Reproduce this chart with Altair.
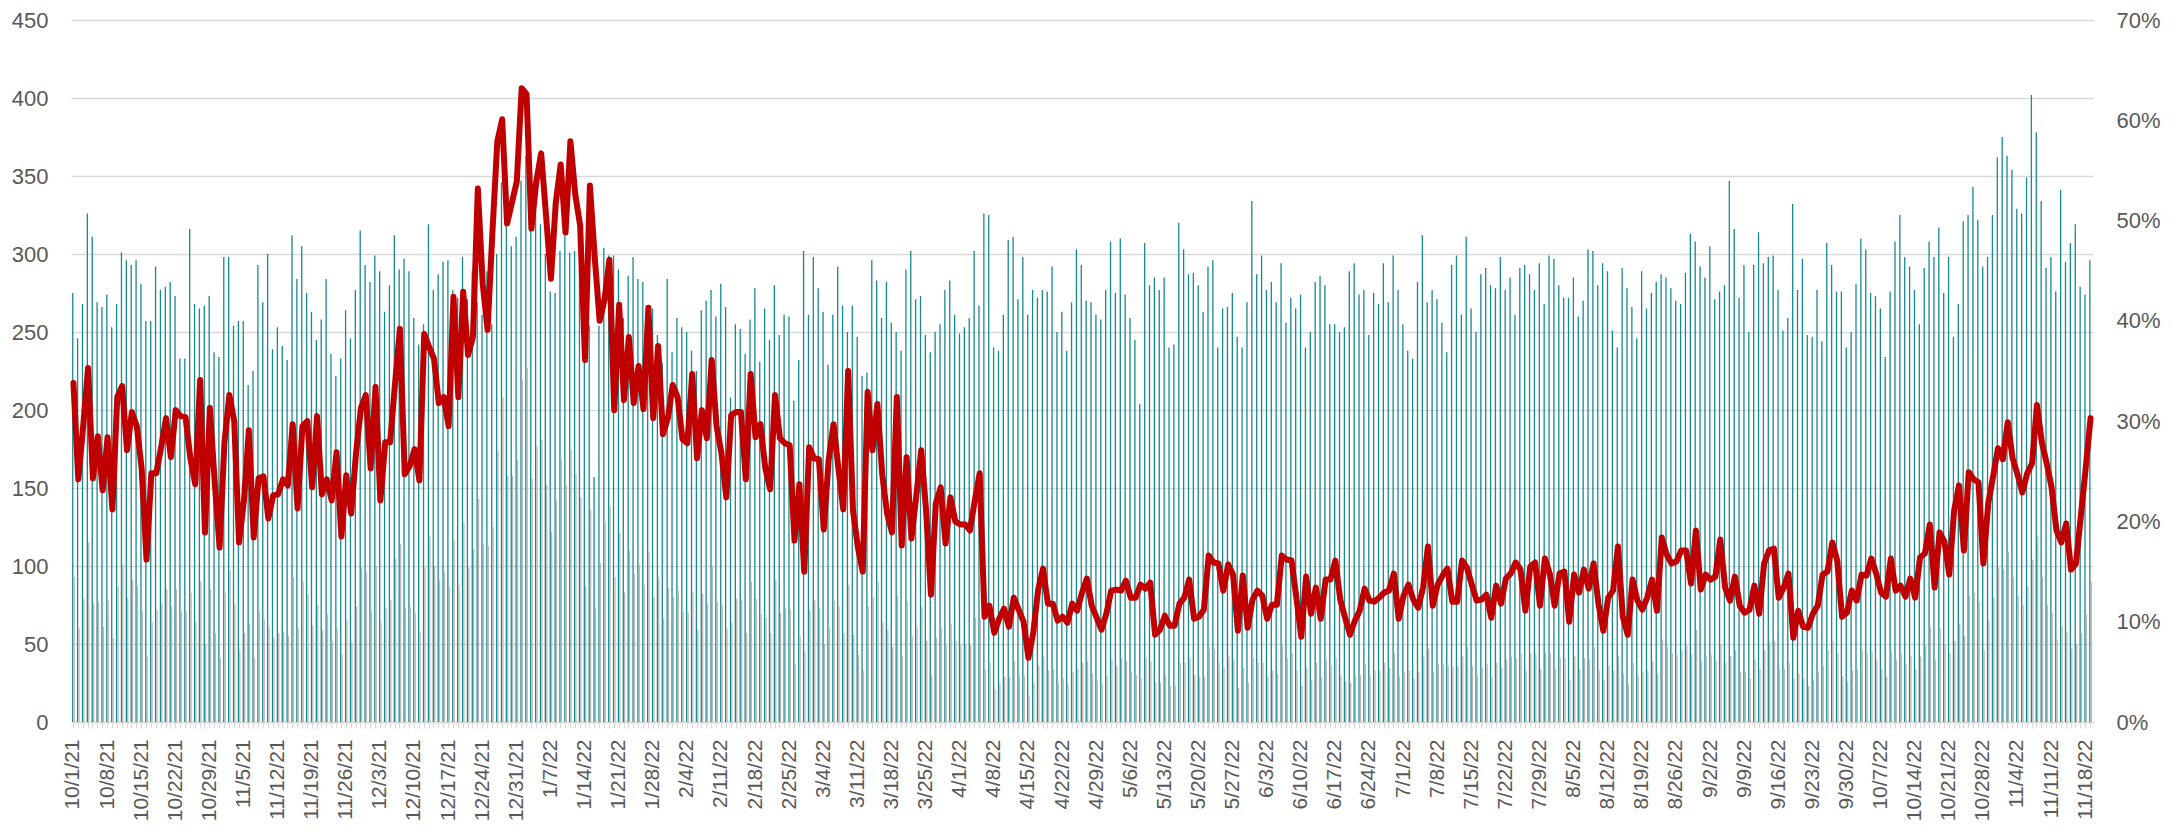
import json
import altair as alt
import pandas as pd

# Daily number of tests (left axis), 10/1/21 .. 11/19/22
tests = [
    275, 246, 268, 326, 311, 269, 266, 274, 253, 268,
    301, 296, 293, 296, 281, 257, 257, 292, 277, 279,
    282, 273, 233, 233, 316, 268, 265, 267, 273, 237,
    234, 298, 298, 254, 257, 257, 216, 225, 293, 269,
    300, 239, 253, 241, 232, 312, 284, 305, 275, 263,
    245, 258, 284, 236, 222, 233, 264, 246, 277, 315,
    293, 282, 299, 289, 263, 280, 312, 290, 297, 289,
    259, 242, 255, 319, 277, 287, 295, 296, 277, 272,
    298, 271, 289, 269, 261, 289, 255, 300, 346, 318,
    305, 311, 347, 363, 318, 328, 319, 300, 276, 275,
    302, 312, 301, 302, 290, 240, 254, 157, 254, 304,
    299, 299, 290, 259, 286, 298, 284, 282, 265, 265,
    248, 230, 284, 237, 259, 253, 250, 238, 225, 264,
    270, 277, 260, 281, 266, 208, 255, 252, 236, 258,
    278, 231, 265, 245, 280, 248, 261, 260, 206, 232,
    302, 261, 298, 278, 263, 229, 261, 292, 267, 250,
    267, 247, 222, 224, 296, 283, 259, 282, 256, 250,
    238, 290, 302, 271, 273, 248, 237, 250, 255, 277,
    283, 261, 249, 253, 259, 302, 267, 326, 325, 240,
    238, 261, 309, 311, 271, 298, 261, 277, 272, 277,
    276, 292, 250, 263, 238, 269, 303, 293, 270, 269,
    261, 258, 277, 308, 275, 310, 274, 259, 245, 204,
    307, 280, 285, 277, 285, 240, 242, 320, 303, 287,
    288, 280, 263, 292, 296, 240, 265, 266, 275, 247,
    240, 269, 334, 287, 299, 277, 282, 269, 294, 256,
    272, 265, 274, 240, 250, 282, 286, 280, 255, 255,
    250, 253, 289, 294, 274, 277, 248, 275, 268, 294,
    269, 299, 277, 255, 238, 233, 282, 312, 269, 277,
    271, 256, 237, 293, 299, 261, 311, 265, 250, 287,
    291, 280, 278, 298, 277, 285, 261, 291, 293, 287,
    277, 294, 268, 299, 297, 280, 272, 272, 285, 260,
    270, 303, 302, 280, 294, 289, 251, 240, 291, 278,
    266, 246, 289, 265, 275, 282, 287, 285, 278, 270,
    268, 288, 313, 308, 292, 285, 305, 271, 276, 280,
    347, 316, 272, 293, 250, 293, 314, 294, 298, 299,
    277, 251, 259, 332, 277, 297, 248, 247, 277, 244,
    307, 293, 276, 276, 240, 250, 281, 310, 303, 275,
    273, 265, 234, 276, 308, 325, 298, 292, 277, 255,
    291, 308, 298, 317, 275, 298, 247, 268, 321, 325,
    343, 322, 292, 298, 325, 362, 375, 363, 354, 329,
    326, 349, 402, 378, 334, 291, 298, 276, 341, 295,
    307, 319, 279, 274, 296,
]

# Daily positivity rate in percent (right axis)
rate = [
    33.8, 24.2, 29.5, 35.3, 24.3, 28.5, 23.1, 28.4, 21.2, 32.4,
    33.5, 27.1, 30.9, 29.5, 25.3, 16.2, 24.8, 24.8, 27.4, 30.3,
    26.4, 31.1, 30.5, 30.4, 26.3, 23.7, 34.1, 18.9, 31.3, 23.9,
    17.4, 27.9, 32.6, 30.0, 17.9, 22.1, 29.1, 18.4, 24.3, 24.5,
    20.3, 22.6, 22.7, 24.2, 23.6, 29.7, 21.3, 29.5, 30.0, 23.4,
    30.5, 22.7, 24.2, 22.1, 26.9, 18.5, 24.6, 20.8, 26.8, 31.3,
    32.6, 25.3, 33.4, 22.1, 27.9, 27.9, 33.7, 39.2, 24.7, 25.5,
    27.2, 24.1, 38.7, 37.4, 36.2, 31.8, 32.4, 29.5, 42.4, 32.4,
    42.9, 36.6, 38.4, 53.2, 43.7, 39.1, 48.9, 57.9, 60.1, 49.7,
    51.8, 53.9, 63.2, 62.6, 49.2, 53.9, 56.7, 50.5, 44.2, 51.8,
    55.6, 48.8, 57.9, 52.6, 49.5, 36.1, 53.5, 46.3, 40.0, 42.1,
    46.1, 31.1, 41.6, 32.1, 38.4, 31.8, 35.5, 31.2, 41.3, 30.3,
    37.5, 28.7, 30.3, 33.6, 32.4, 28.2, 27.8, 34.7, 26.3, 31.1,
    28.3, 36.1, 29.5, 26.8, 22.4, 30.6, 30.9, 30.9, 24.2, 34.7,
    28.4, 29.7, 25.3, 23.2, 32.6, 28.3, 27.8, 27.6, 18.1, 23.7,
    15.0, 27.4, 26.3, 26.2, 19.2, 26.1, 29.7, 25.3, 21.2, 35.0,
    21.1, 17.4, 15.0, 32.9, 27.1, 31.7, 24.7, 20.8, 18.9, 32.4,
    17.6, 26.4, 18.3, 22.6, 27.1, 21.1, 12.7, 21.8, 23.4, 17.8,
    22.4, 20.0, 19.7, 19.7, 19.1, 22.1, 24.8, 10.5, 11.6, 8.9,
    10.3, 11.3, 9.5, 12.4, 11.2, 10.0, 6.4, 8.9, 13.2, 15.3,
    11.8, 11.8, 10.1, 10.5, 9.9, 11.8, 11.1, 12.9, 14.3, 11.6,
    10.4, 9.2, 10.8, 13.1, 13.2, 13.1, 14.1, 12.4, 12.4, 13.7,
    13.3, 13.9, 8.7, 9.2, 10.6, 9.6, 9.6, 11.8, 12.4, 14.2,
    10.3, 10.5, 11.2, 16.6, 15.9, 15.8, 13.1, 15.7, 14.7, 9.1,
    14.6, 9.4, 12.2, 13.1, 12.6, 10.3, 11.7, 11.7, 16.6, 16.2,
    16.1, 12.4, 8.5, 14.5, 10.8, 13.4, 10.3, 14.2, 14.2, 16.1,
    12.2, 10.4, 8.7, 10.1, 11.1, 13.3, 12.1, 12.0, 12.4, 12.9,
    13.1, 14.8, 10.3, 12.6, 13.7, 12.2, 11.4, 13.4, 17.5, 11.6,
    13.7, 14.6, 15.3, 12.0, 12.0, 16.1, 15.4, 13.7, 12.1, 12.2,
    12.7, 10.4, 13.6, 11.8, 14.3, 14.8, 15.9, 15.2, 11.1, 15.5,
    15.9, 11.6, 16.3, 14.8, 11.6, 14.8, 15.0, 10.0, 14.7, 12.9,
    15.2, 13.3, 15.8, 11.8, 9.1, 12.4, 13.1, 17.5, 10.5, 8.7,
    14.2, 12.1, 11.2, 12.4, 14.2, 11.1, 18.4, 16.7, 15.8, 16.0,
    17.1, 17.1, 13.8, 19.1, 13.2, 14.7, 14.2, 14.5, 18.2, 13.4,
    12.1, 14.5, 11.6, 10.9, 11.2, 13.6, 10.8, 15.8, 17.1, 17.3,
    12.4, 13.4, 14.8, 8.4, 11.1, 9.5, 9.4, 10.8, 11.6, 14.7,
    15.0, 17.9, 16.1, 10.5, 10.9, 13.1, 12.1, 14.7, 14.6, 16.3,
    14.8, 12.9, 12.5, 16.3, 13.1, 13.6, 12.5, 14.3, 12.4, 16.4,
    16.8, 19.7, 13.4, 18.9, 18.0, 14.7, 21.1, 23.6, 17.1, 24.9,
    24.2, 23.9, 15.8, 21.8, 24.5, 27.3, 26.2, 29.9, 26.3, 24.7,
    22.9, 24.8, 25.8, 31.6, 27.9, 25.8, 23.4, 19.1, 17.9, 19.8,
    15.2, 15.8, 20.5, 25.3, 30.3,
]

start_date = "2021-10-01"
dates = pd.date_range(start_date, periods=len(tests), freq="D")
labels = [f"{d.month}/{d.day}/{d.year % 100}" for d in dates]
weekly_labels = labels[::7]

df = pd.DataFrame({"label": labels, "tests": tests, "rate": rate})
# grey columns = positive results, i.e. tests x positivity rate
df["positives"] = (df["tests"] * df["rate"] / 100).round()

FONT = "Liberation Sans"
TXT = "#595959"
GRID = "#D9D9D9"

label_expr = "indexof(" + json.dumps(weekly_labels) + ", datum.value) >= 0 ? datum.value : ''"

x_enc = alt.X(
    "label:N",
    sort=None,
    scale=alt.Scale(paddingInner=0, paddingOuter=0),
    axis=alt.Axis(
        title=None,
        labelAngle=270,
        labelExpr=label_expr,
        labelOverlap=False,
        labelFont=FONT,
        labelFontSize=21,
        labelColor=TXT,
        labelPadding=11,
        domainColor=GRID,
        domainWidth=1.5,
        tickColor=GRID,
        tickSize=6,
        tickWidth=1,
        grid=False,
    ),
)

teal = alt.Chart(df).mark_bar(size=1.3, xOffset=-0.7, color="#168A8F").encode(
    x=x_enc,
    y=alt.Y(
        "tests:Q",
        scale=alt.Scale(domain=[0, 450], nice=False),
        axis=alt.Axis(
            title=None,
            values=list(range(0, 451, 50)),
            grid=True,
            gridColor=GRID,
            gridWidth=1.5,
            domain=False,
            ticks=False,
            labelFont=FONT,
            labelFontSize=22,
            labelColor=TXT,
            labelPadding=23,
        ),
    ),
)

grey = alt.Chart(df).mark_bar(size=1.3, xOffset=0.7, color="#B8B8B8").encode(
    x=x_enc,
    y=alt.Y("positives:Q", scale=alt.Scale(domain=[0, 450], nice=False), axis=None),
)

line = alt.Chart(df).mark_line(
    color="#C00000", strokeWidth=6, strokeJoin="round", strokeCap="round"
).encode(
    x=x_enc,
    y=alt.Y(
        "rate:Q",
        scale=alt.Scale(domain=[0, 70], nice=False),
        axis=alt.Axis(
            title=None,
            orient="right",
            values=list(range(0, 71, 10)),
            labelExpr="datum.value + '%'",
            grid=False,
            domain=False,
            ticks=False,
            labelFont=FONT,
            labelFontSize=22,
            labelColor=TXT,
            labelPadding=23,
        ),
    ),
)

chart = (
    alt.layer(teal, grey, line)
    .resolve_scale(y="independent")
    .properties(
        width=2022,
        height=702,
        autosize=alt.AutoSizeParams(type="none"),
        padding={"left": 63, "top": 12, "right": 79, "bottom": 110},
        background="white",
    )
    .configure_view(stroke=None)
)

chart.save("out.html", embed_options={"renderer": "svg", "actions": False})
